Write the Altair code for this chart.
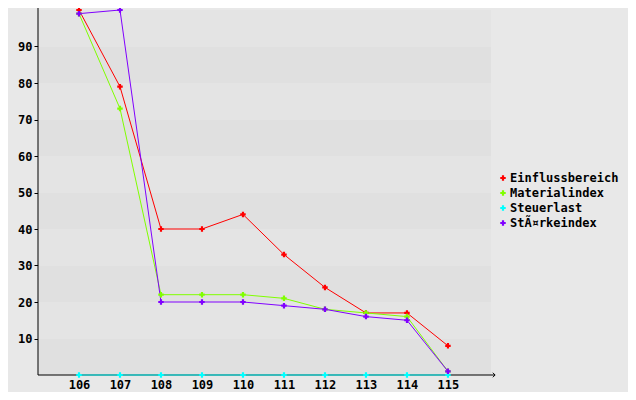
import altair as alt
import pandas as pd

x_vals = [106, 107, 108, 109, 110, 111, 112, 113, 114, 115]
einfluss = [100, 79, 40, 40, 44, 33, 24, 17, 17, 8]
material = [99, 73, 22, 22, 22, 21, 18, 17, 16, 1]
steuer = [0, 0, 0, 0, 0, 0, 0, 0, 0, 0]
staerke = [99, 100, 20, 20, 20, 19, 18, 16, 15, 1]
series_names = ["Einflussbereich", "Materialindex", "Steuerlast", "StÃ¤rkeindex"]
series_colors = ["#ff0000", "#80ff00", "#00ffff", "#8000ff"]
y_ticks = [10, 20, 30, 40, 50, 60, 70, 80, 90]

rows = []
for name, vals in zip(series_names, [einfluss, material, steuer, staerke]):
    for xv, yv in zip(x_vals, vals):
        rows.append({"x": xv, "y": yv, "series": name})
df = pd.DataFrame(rows)

band_starts = [0] + y_ticks
bands = pd.DataFrame({
    "y": band_starts,
    "y2": band_starts[1:] + [100],
    "shade": ["#e0e0e0" if i % 2 == 0 else "#e4e4e4" for i in range(len(band_starts))],
})

FONT = "DejaVu Sans Mono"
XMIN, XMAX = 105, 116.05
xs = alt.Scale(domain=[XMIN, XMAX], nice=False, zero=False)
ys = alt.Scale(domain=[0, 100], nice=False)
cs = alt.Scale(domain=series_names, range=series_colors)

legend = alt.Legend(title=None, orient="none", legendX=459, legendY=162,
                    symbolType="cross", symbolSize=30, symbolStrokeWidth=0,
                    labelFont=FONT, labelFontSize=12, labelFontWeight="bold",
                    labelColor="black", rowPadding=3, labelOffset=1, padding=0)

band_layer = alt.Chart(bands).mark_rect().encode(
    x=alt.datum(XMIN, scale=xs),
    x2=alt.datum(XMAX),
    y=alt.Y("y:Q", scale=ys, axis=alt.Axis(values=y_ticks, title=None, domain=False,
                                           tickColor="black", tickSize=4, labelPadding=2,
                                           labelFont=FONT, labelFontSize=12, labelFontWeight="bold",
                                           labelColor="black", grid=False)),
    y2="y2:Q",
    fill=alt.Fill("shade:N", scale=None),
)

axis_df = pd.DataFrame({"x0": [XMIN], "y0": [0], "ytip": [101.4], "xtip": [116.15]})
yaxis_rule = alt.Chart(axis_df).mark_rule(color="black", strokeWidth=1).encode(
    x=alt.X("x0:Q", scale=xs), y=alt.Y("y0:Q", scale=ys), y2="ytip:Q")
xaxis_rule = alt.Chart(axis_df).mark_rule(color="black", strokeWidth=1).encode(
    x=alt.X("x0:Q", scale=xs), x2="xtip:Q", y=alt.Y("y0:Q", scale=ys))
yarrow = alt.Chart(axis_df).mark_point(shape="M-1,1L0,0L1,1", size=20, stroke="black",
                                       strokeWidth=1, filled=False, opacity=1).encode(
    x=alt.X("x0:Q", scale=xs), y=alt.Y("ytip:Q", scale=ys))
xarrow = alt.Chart(axis_df).mark_point(shape="M-1,-1L0,0L-1,1", size=20, stroke="black",
                                       strokeWidth=1, filled=False, opacity=1).encode(
    x=alt.X("xtip:Q", scale=xs), y=alt.Y("y0:Q", scale=ys))

line_layer = alt.Chart(df).mark_line(strokeWidth=1).encode(
    x=alt.X("x:Q", scale=xs, axis=alt.Axis(values=x_vals, title=None, domain=False, ticks=False,
                                           labelPadding=4, labelFont=FONT, labelFontSize=12,
                                           labelFontWeight="bold", labelColor="black", grid=False)),
    y=alt.Y("y:Q", scale=ys),
    color=alt.Color("series:N", scale=cs, sort=series_names, legend=legend),
)

point_layer = alt.Chart(df).mark_point(shape="cross", filled=True, size=30, opacity=1).encode(
    x=alt.X("x:Q", scale=xs),
    y=alt.Y("y:Q", scale=ys),
    color=alt.Color("series:N", scale=cs, sort=series_names, legend=legend),
)

chart = alt.layer(band_layer, yaxis_rule, xaxis_rule, yarrow, xarrow, line_layer, point_layer).properties(
    width=453, height=365,
    autosize=alt.AutoSizeParams(type="none"),
    padding={"left": 30, "top": 2, "right": 137, "bottom": 17},
    background="#e8e8e8",
).configure_view(stroke=None)

chart.save("out.html", embed_options={"renderer": "svg", "actions": False})
